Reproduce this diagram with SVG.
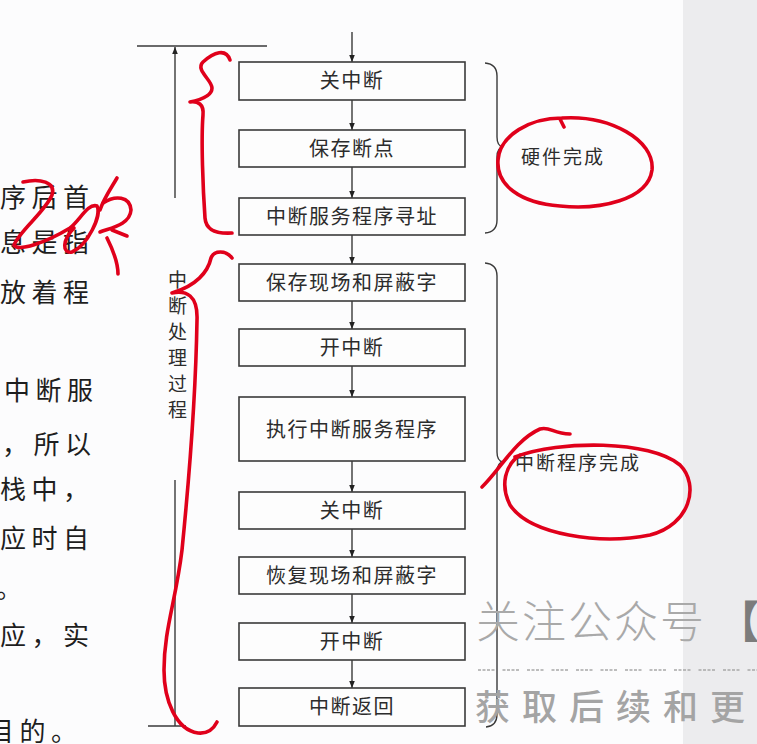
<svg xmlns="http://www.w3.org/2000/svg" width="757" height="744" viewBox="0 0 757 744">
<defs>
<marker id="ah" viewBox="0 0 10 10" refX="10" refY="5" markerWidth="7" markerHeight="10" markerUnits="userSpaceOnUse" orient="auto">
<path d="M0,1 L10,5 L0,9 Z" fill="#222"/>
</marker>
<style>
.box rect{fill:#fdfdfd;stroke:#3a3a3a;stroke-width:1.6}
.box text{font-family:"Noto Sans CJK SC",sans-serif;font-size:20px;fill:#2c2c2c;text-anchor:middle;letter-spacing:1.5px}
.conn line{stroke:#2a2a2a;stroke-width:1.3;marker-end:url(#ah)}
.plain{stroke:#3a3a3a;stroke-width:1.4;fill:none}
.page{font-family:"Noto Sans CJK SC",sans-serif;font-size:26px;fill:#1e1e1e;letter-spacing:5.5px}
.lbl{font-family:"Noto Sans CJK SC",sans-serif;font-size:19px;fill:#2c2c2c;letter-spacing:2px}
.red{fill:none;stroke:#e0001b;stroke-width:3.6;stroke-linecap:round;stroke-linejoin:round}
</style>
</defs>
<rect width="757" height="744" fill="#fcfcfd"/>
<rect x="683" y="0" width="74" height="744" fill="#ececee"/>

<!-- left page text (cut off) -->
<g id="pagetext">
<text class="page" x="0" y="207">序后首</text>
<text class="page" x="0" y="252">息是指</text>
<text class="page" x="0" y="302">放着程</text>
<text class="page" x="4" y="400">中断服</text>
<text class="page" x="2" y="454">，所以</text>
<text class="page" x="0" y="499">栈中，</text>
<text class="page" x="0" y="548">应时自</text>
<text class="page" x="-4" y="598">。</text>
<text class="page" x="0" y="645">应，实</text>
<text class="page" x="-12" y="741">目的。</text>
</g>

<!-- connectors -->
<g id="connectors" class="conn">
<line x1="352" y1="32" x2="352" y2="62"/>
<line x1="352" y1="100" x2="352" y2="130"/>
<line x1="352" y1="167" x2="352" y2="198"/>
<line x1="352" y1="235" x2="352" y2="264"/>
<line x1="352" y1="301" x2="352" y2="329"/>
<line x1="352" y1="366" x2="352" y2="397"/>
<line x1="352" y1="461" x2="352" y2="492"/>
<line x1="352" y1="529" x2="352" y2="557"/>
<line x1="352" y1="594" x2="352" y2="623"/>
<line x1="352" y1="660" x2="352" y2="688"/>
<line x1="175" y1="198" x2="175" y2="47"/>
</g>

<g id="n1" class="box"><rect x="239" y="62" width="226" height="38"/><text x="352" y="88">关中断</text></g>
<g id="n2" class="box"><rect x="239" y="130" width="226" height="37"/><text x="352" y="156">保存断点</text></g>
<g id="n3" class="box"><rect x="239" y="198" width="226" height="37"/><text x="352" y="224">中断服务程序寻址</text></g>
<g id="n4" class="box"><rect x="239" y="264" width="226" height="37"/><text x="352" y="290">保存现场和屏蔽字</text></g>
<g id="n5" class="box"><rect x="239" y="329" width="226" height="37"/><text x="352" y="355">开中断</text></g>
<g id="n6" class="box"><rect x="239" y="397" width="226" height="64"/><text x="352" y="437">执行中断服务程序</text></g>
<g id="n7" class="box"><rect x="239" y="492" width="226" height="37"/><text x="352" y="518">关中断</text></g>
<g id="n8" class="box"><rect x="239" y="557" width="226" height="37"/><text x="352" y="583">恢复现场和屏蔽字</text></g>
<g id="n9" class="box"><rect x="239" y="623" width="226" height="37"/><text x="352" y="649">开中断</text></g>
<g id="n10" class="box"><rect x="239" y="688" width="226" height="38"/><text x="352" y="714">中断返回</text></g>

<!-- left span marker -->
<g id="span">
<line class="plain" x1="137" y1="46" x2="267" y2="46"/>
<line class="plain" x1="175" y1="480" x2="175" y2="726"/>
<line class="plain" x1="148" y1="726" x2="186" y2="726"/>
<text class="lbl" x="168" y="287">中</text>
<text class="lbl" x="168" y="313">断</text>
<text class="lbl" x="168" y="339">处</text>
<text class="lbl" x="168" y="365">理</text>
<text class="lbl" x="168" y="391">过</text>
<text class="lbl" x="168" y="417">程</text>
</g>

<!-- right braces -->
<g id="brace-hw">
<path class="plain" d="M485,63 Q497,64 497,76 L497,137 Q497,146 503,147 Q497,148 497,157 L497,220 Q497,232 485,233"/>
<text class="lbl" x="521" y="164">硬件完成</text>
</g>
<g id="brace-sw">
<path class="plain" d="M485,263 Q497,264 497,276 L497,452 Q497,461 503,462 Q497,463 497,472 L497,714 Q497,726 486,727"/>
<text class="lbl" x="515" y="470">中断程序完成</text>
</g>

<!-- watermark -->
<g id="watermark">
<text x="476" y="638" font-family="'Noto Sans CJK SC',sans-serif" font-size="44" font-weight="300" fill="#a9a9a9" letter-spacing="2">关注公众号</text>
<text x="716" y="638" font-family="'Noto Sans CJK SC',sans-serif" font-size="44" font-weight="700" fill="#7c7c7c">【</text>
<line x1="478" y1="670" x2="757" y2="670" stroke="#a8a8a8" stroke-width="1.3" stroke-dasharray="3,1.5,3,1.5,3,1.5,3,8"/>
<text x="475" y="720" font-family="'Noto Sans CJK SC',sans-serif" font-size="35" font-weight="500" fill="#a4a4a4" letter-spacing="12">获取后续和更</text>
</g>

<!-- red handwriting -->
<g id="annotations">
<path class="red" d="M23,182 C40,178 56,182 52,195 C45,212 20,230 14,245 C18,252 45,243 70,228 C80,220 88,203 97,206 C102,215 88,245 72,252 C62,254 62,240 74,228"/>
<path class="red" d="M117,178 C110,190 104,198 100,210"/>
<path class="red" d="M103,203 C115,195 130,196 131,210 C130,225 110,228 100,232"/>
<path class="red" d="M107,238 C113,250 118,262 118,274"/>
<path class="red" d="M112,230 L127,236"/>
<path class="red" d="M230,60 C226,48 214,52 203,62 C195,70 212,80 212,88 C212,96 200,100 190,102 C198,101 204,104 203,115 C201,140 203,190 205,218 C206,230 215,234 232,233"/>
<path class="red" d="M232,258 C226,250 214,250 211,258 C208,272 196,286 172,293 C186,290 198,295 197,320 C196,380 190,470 182,550 C176,600 164,630 164,670 C164,700 176,730 198,733 C208,734 214,728 217,722"/>
<path class="red" d="M562,118 C610,115 655,140 652,170 C648,200 600,210 560,206 C520,203 496,185 498,160 C500,135 530,118 562,118 M560,119 L564,127"/>
<path class="red" d="M482,487 C500,470 515,440 540,429 C550,426 553,434 570,434"/>
<path class="red" d="M515,457 C560,440 650,440 680,465 C700,485 690,525 650,535 C600,545 530,535 510,505 C500,485 505,465 520,455"/>
</g>
</svg>
